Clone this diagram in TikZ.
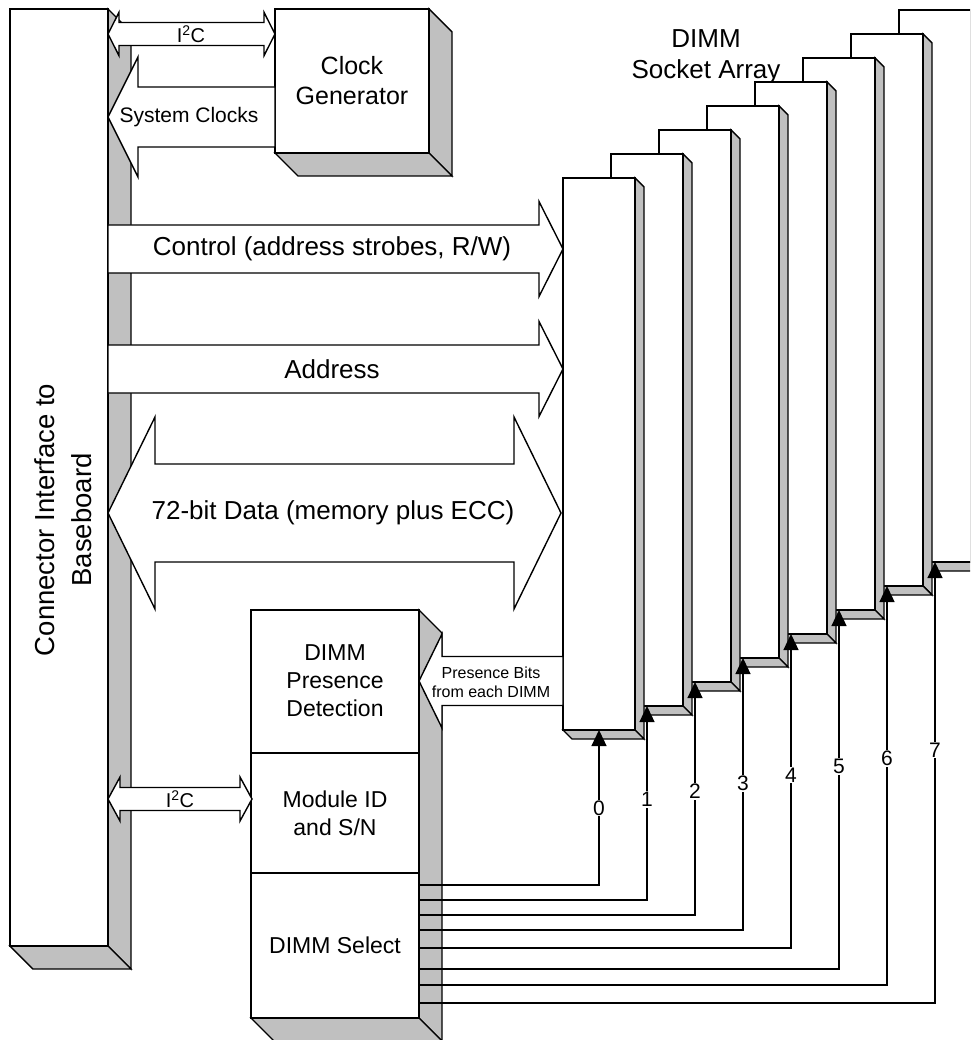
\documentclass[tikz,border=0pt]{standalone}
\usepackage{fontspec}
\setmainfont{Liberation Sans}
\usetikzlibrary{arrows.meta}
\definecolor{shade}{RGB}{192,192,192}
\tikzset{
  face/.style={draw=black, fill=white, line width=1.4pt},
  side/.style={draw=black, fill=shade, line width=1.4pt},
  wire/.style={draw=black, line width=1.3pt},
  lbl/.style={align=center, inner sep=0pt},
}
% 3D box: x1,y1,x2,y2 of the front face, depth
\newcommand{\chipbox}[5]{
\filldraw[side] (#3,#2) -- (#3+#5,#2+#5) -- (#3+#5,#4+#5) -- (#3,#4) -- cycle;
\filldraw[side] (#1,#4) -- (#3,#4) -- (#3+#5,#4+#5) -- (#1+#5,#4+#5) -- cycle;
\filldraw[face] (#1,#2) rectangle (#3,#4);
}
% block arrows: tail/tip x, tip x, y centre, body half, head half, head length
\newcommand{\busright}[6]{
\filldraw[face] (#1,#3-#4) -- (#2-#6,#3-#4) -- (#2-#6,#3-#5) -- (#2,#3) -- (#2-#6,#3+#5) -- (#2-#6,#3+#4) -- (#1,#3+#4) -- cycle;
}
\newcommand{\busleft}[6]{
\filldraw[face] (#2,#3-#4) -- (#1+#6,#3-#4) -- (#1+#6,#3-#5) -- (#1,#3) -- (#1+#6,#3+#5) -- (#1+#6,#3+#4) -- (#2,#3+#4) -- cycle;
}
\newcommand{\busboth}[6]{
\filldraw[face] (#1,#3) -- (#1+#6,#3-#5) -- (#1+#6,#3-#4) -- (#2-#6,#3-#4) -- (#2-#6,#3-#5) -- (#2,#3) -- (#2-#6,#3+#5) -- (#2-#6,#3+#4) -- (#1+#6,#3+#4) -- (#1+#6,#3+#5) -- cycle;
}

\begin{document}
\begin{tikzpicture}[x=1pt,y=-1pt]
\useasboundingbox (0,0) rectangle (970,1040);
\clip (0,0) rectangle (970,1040);
% connector and clock generator
\chipbox{10}{9}{108}{946}{23}
\node[lbl, rotate=90, font=\fontsize{27.5}{37}\selectfont] (conn) at (63,520) {Connector Interface to\\Baseboard};
\chipbox{275}{9}{429}{153}{23}
\node[lbl, font=\fontsize{25}{30}\selectfont] (clk) at (352,81) {Clock\\Generator};
% socket array
\node[lbl, font=\fontsize{26}{31}\selectfont] (sock) at (706,57) {DIMM\\Socket Array};
\foreach \n in {7,6,...,0} {
\pgfmathsetmacro\xl{563+48*\n}
\pgfmathsetmacro\yt{178-24*\n}
\chipbox{\xl}{\yt}{\xl+72}{\yt+552}{9}
}
% presence / module id / select
\chipbox{251}{610}{419}{1018}{23}
\draw[face] (251,753) -- (419,753);
\draw[face] (251,873) -- (419,873);
\node[lbl, font=\fontsize{23}{28}\selectfont] (pres) at (335,681) {DIMM\\Presence\\Detection};
\node[lbl, font=\fontsize{23}{28}\selectfont] (modid) at (335,813) {Module ID\\and S/N};
\node[lbl, font=\fontsize{23}{28}\selectfont] (dsel) at (335,945) {DIMM Select};
% buses
\busboth{108}{275}{34}{11.5}{21.7}{11}
\node[lbl, font=\fontsize{20}{24}\selectfont] (i2ctop) at (191,34) {I\textsuperscript{2}C};
\busleft{108}{275}{117}{30}{60}{30}
\node[lbl, font=\fontsize{21}{25}\selectfont] (sysclk) at (189,117) {System Clocks};
\busright{108}{563}{249}{24}{47.5}{24}
\node[lbl, font=\fontsize{26}{30}\selectfont] (ctl) at (332,249) {Control (address strobes, R/W)};
\busright{108}{563}{369}{24}{47.5}{24}
\node[lbl, font=\fontsize{26}{30}\selectfont] (addr) at (332,369) {Address};
\busboth{108}{561}{513}{49}{96}{47}
\node[lbl, font=\fontsize{26}{30}\selectfont] (data) at (333,513) {72-bit Data (memory plus ECC)};
\busleft{419}{563}{681}{24.5}{47}{23}
\node[lbl, font=\fontsize{16}{19}\selectfont] (presbits) at (491,682) {Presence Bits\\from each DIMM};
\busboth{108}{252}{799}{11.5}{22}{12}
\node[lbl, font=\fontsize{20}{24}\selectfont] (i2cbot) at (180,799) {I\textsuperscript{2}C};
% select lines
\foreach \n/\yy in {0/885,1/900,2/915,3/930,4/948,5/969,6/985,7/1003} {
\pgfmathsetmacro\xx{599+48*\n}
\pgfmathsetmacro\yb{730-24*\n}
\pgfmathsetmacro\yn{808-8.3*\n}
\coordinate (sel\n) at (419,\yy);
\coordinate (pin\n) at (\xx,\yb);
\draw[wire,-{Triangle[width=15pt,length=16pt]}] (sel\n) -| (pin\n);
\node[fill=white, inner sep=1pt, font=\fontsize{21}{25}\selectfont] (n\n) at (\xx,\yn) {\n};
}
\end{tikzpicture}
\end{document}
